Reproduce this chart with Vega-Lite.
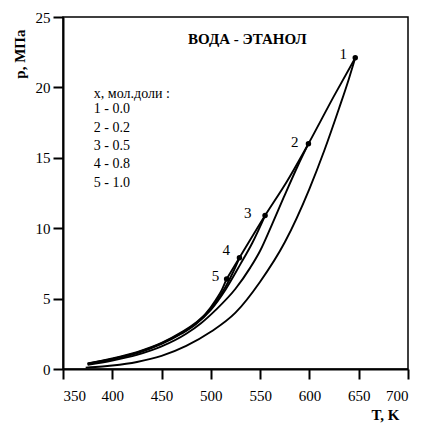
{
  "$schema": "https://vega.github.io/schema/vega-lite/v6.json",
  "width": 345,
  "height": 352,
  "autosize": "none",
  "padding": {"left": 63, "top": 17, "right": 13, "bottom": 54},
  "background": "white",
  "config": {
    "font": "'Liberation Serif', 'Times New Roman', serif",
    "view": {"stroke": "black", "strokeWidth": 1.5},
    "text": {"font": "'Liberation Serif', 'Times New Roman', serif"},
    "axis": {"grid": false, "domainColor": "black", "domainWidth": 2, "tickColor": "black", "tickWidth": 2, "labelColor": "black", "titleColor": "black", "labelFont": "'Liberation Serif', 'Times New Roman', serif", "titleFont": "'Liberation Serif', 'Times New Roman', serif"}
  },
  "datasets": {
    "curves": [
      {"s": "1", "T": 373, "P": 0.10}, {"s": "1", "T": 390, "P": 0.18}, {"s": "1", "T": 400, "P": 0.25}, {"s": "1", "T": 425, "P": 0.50}, {"s": "1", "T": 450, "P": 0.93}, {"s": "1", "T": 475, "P": 1.64}, {"s": "1", "T": 500, "P": 2.64}, {"s": "1", "T": 525, "P": 4.0}, {"s": "1", "T": 550, "P": 6.2}, {"s": "1", "T": 575, "P": 9.0}, {"s": "1", "T": 600, "P": 12.8}, {"s": "1", "T": 615, "P": 15.5}, {"s": "1", "T": 630, "P": 18.5}, {"s": "1", "T": 640, "P": 20.6}, {"s": "1", "T": 646.5, "P": 22.1},
      {"s": "2", "T": 375, "P": 0.3}, {"s": "2", "T": 400, "P": 0.6}, {"s": "2", "T": 425, "P": 1.0}, {"s": "2", "T": 450, "P": 1.6}, {"s": "2", "T": 475, "P": 2.5}, {"s": "2", "T": 490, "P": 3.25}, {"s": "2", "T": 505, "P": 4.2}, {"s": "2", "T": 525, "P": 5.7}, {"s": "2", "T": 540, "P": 7.2}, {"s": "2", "T": 550, "P": 8.4}, {"s": "2", "T": 561, "P": 10.1}, {"s": "2", "T": 574, "P": 12.2}, {"s": "2", "T": 588, "P": 14.4}, {"s": "2", "T": 599, "P": 16.0},
      {"s": "3", "T": 375, "P": 0.35}, {"s": "3", "T": 400, "P": 0.7}, {"s": "3", "T": 425, "P": 1.12}, {"s": "3", "T": 450, "P": 1.78}, {"s": "3", "T": 470, "P": 2.5}, {"s": "3", "T": 485, "P": 3.2}, {"s": "3", "T": 500, "P": 4.2}, {"s": "3", "T": 515, "P": 5.65}, {"s": "3", "T": 530, "P": 7.45}, {"s": "3", "T": 542, "P": 8.95}, {"s": "3", "T": 555, "P": 10.9},
      {"s": "4", "T": 375, "P": 0.38}, {"s": "4", "T": 400, "P": 0.72}, {"s": "4", "T": 425, "P": 1.16}, {"s": "4", "T": 450, "P": 1.82}, {"s": "4", "T": 470, "P": 2.55}, {"s": "4", "T": 485, "P": 3.25}, {"s": "4", "T": 495, "P": 3.9}, {"s": "4", "T": 505, "P": 4.75}, {"s": "4", "T": 515, "P": 5.85}, {"s": "4", "T": 522, "P": 6.8}, {"s": "4", "T": 529, "P": 7.9},
      {"s": "5", "T": 375, "P": 0.4}, {"s": "5", "T": 400, "P": 0.75}, {"s": "5", "T": 425, "P": 1.2}, {"s": "5", "T": 450, "P": 1.85}, {"s": "5", "T": 470, "P": 2.6}, {"s": "5", "T": 485, "P": 3.3}, {"s": "5", "T": 495, "P": 3.95}, {"s": "5", "T": 505, "P": 4.9}, {"s": "5", "T": 511, "P": 5.6}, {"s": "5", "T": 516, "P": 6.4},
      {"s": "c", "T": 516, "P": 6.4}, {"s": "c", "T": 529, "P": 7.9}, {"s": "c", "T": 555, "P": 10.9}, {"s": "c", "T": 577, "P": 13.3}, {"s": "c", "T": 599, "P": 16.0}, {"s": "c", "T": 625, "P": 19.4}, {"s": "c", "T": 646.5, "P": 22.1}
    ],
    "crit": [
      {"n": "1", "T": 646.5, "P": 22.1, "lt": 634.3, "lp": 22.4, "b": "bold"},
      {"n": "2", "T": 599, "P": 16.0, "lt": 585.2, "lp": 16.1, "b": "bold"},
      {"n": "3", "T": 555, "P": 10.9, "lt": 537.5, "lp": 11.1, "b": "bold"},
      {"n": "4", "T": 529, "P": 7.9, "lt": 515.7, "lp": 8.46, "b": "normal"},
      {"n": "5", "T": 516, "P": 6.4, "lt": 504.6, "lp": 6.62, "b": "normal"}
    ],
    "legend": [
      {"t": "x, мол.доли :", "T": 381.3, "P": 19.5},
      {"t": "1 - 0.0", "T": 381.3, "P": 18.44},
      {"t": "2 - 0.2", "T": 381.3, "P": 17.13},
      {"t": "3 - 0.5", "T": 381.3, "P": 15.86},
      {"t": "4 - 0.8", "T": 381.3, "P": 14.56},
      {"t": "5 - 1.0", "T": 381.3, "P": 13.23}
    ],
    "title": [{"t": "ВОДА - ЭТАНОЛ", "T": 537, "P": 23.46}]
  },
  "layer": [
    {
      "data": {"name": "curves"},
      "mark": {"type": "line", "color": "black", "strokeWidth": 1.9, "interpolate": "monotone"},
      "encoding": {
        "x": {"field": "T", "type": "quantitative", "scale": {"domain": [350, 700], "nice": false, "zero": false},
          "axis": {"values": [350, 400, 450, 500, 550, 600, 650, 700], "tickSize": 10, "labelPadding": 9, "labelFontSize": 15, "title": "T, K", "titleFontSize": 15, "titleFontWeight": "bold", "titleAnchor": "end", "titleAlign": "right", "titleX": 336, "titleY": 50, "titleBaseline": "alphabetic"}},
        "y": {"field": "P", "type": "quantitative", "scale": {"domain": [0, 25], "nice": false},
          "axis": {"values": [0, 5, 10, 15, 20, 25], "tickSize": 10, "labelPadding": 3, "labelFontSize": 15, "title": "p, МПа", "titleFontSize": 15, "titleFontWeight": "bold", "titleAngle": -90, "titleAlign": "right", "titleBaseline": "middle", "titleX": -44, "titleY": 12}},
        "detail": {"field": "s"}
      }
    },
    {
      "data": {"name": "crit"},
      "mark": {"type": "point", "filled": true, "color": "black", "size": 30, "opacity": 1},
      "encoding": {"x": {"field": "T", "type": "quantitative"}, "y": {"field": "P", "type": "quantitative"}}
    },
    {
      "data": {"name": "crit"},
      "mark": {"type": "text", "fontSize": 15, "color": "black", "align": "center", "baseline": "middle"},
      "encoding": {"x": {"field": "lt", "type": "quantitative"}, "y": {"field": "lp", "type": "quantitative"}, "text": {"field": "n"}, "fontWeight": {"field": "b", "type": "nominal", "scale": null}}
    },
    {
      "data": {"name": "legend"},
      "mark": {"type": "text", "fontSize": 14, "color": "black", "align": "left", "baseline": "middle"},
      "encoding": {"x": {"field": "T", "type": "quantitative"}, "y": {"field": "P", "type": "quantitative"}, "text": {"field": "t"}}
    },
    {
      "data": {"name": "title"},
      "mark": {"type": "text", "fontSize": 15, "fontWeight": "bold", "color": "black", "align": "center", "baseline": "middle"},
      "encoding": {"x": {"field": "T", "type": "quantitative"}, "y": {"field": "P", "type": "quantitative"}, "text": {"field": "t"}}
    }
  ]
}
